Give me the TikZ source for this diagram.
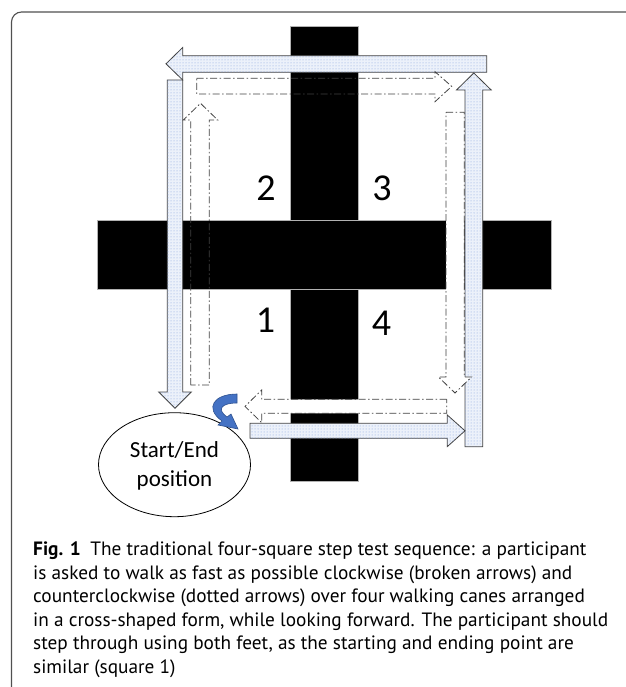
\documentclass[tikz,border=0pt]{standalone}
\usepackage{fontspec}
\setmainfont{Carlito}
\newfontfamily\capfont{PT Sans}
\usetikzlibrary{patterns}
\definecolor{dotfill}{RGB}{236,241,250}
\definecolor{dotcol}{RGB}{130,160,220}
\definecolor{blueC}{RGB}{68,114,196}
\definecolor{blueD}{RGB}{47,82,143}
\definecolor{framecol}{RGB}{80,80,80}
\tikzset{
  cane/.style={fill=black, draw=gray!60, line width=0.8pt},
  dotarrow/.style={draw=black!75, line width=0.8pt, fill=dotfill,
    postaction={pattern=dots, pattern color=dotcol}},
  dasharrow/.style={draw=black!75, line width=0.8pt,
    dash pattern=on 7pt off 2.5pt on 1.5pt off 2.5pt},
  numlabel/.style={font=\fontsize{38}{38}\selectfont, anchor=base, inner sep=0pt},
  caplabel/.style={font=\capfont\fontsize{19.3}{22}\selectfont, anchor=base west, inner sep=0pt},
}
\begin{document}
\begin{tikzpicture}[x=1pt,y=-1pt]
\useasboundingbox (0,0) rectangle (625,687);
% frame
\draw[framecol, line width=1.1pt, rounded corners=10pt] (11.5,690) -- (11.5,12) -- (630,12);
% canes
\path[cane] (290.7,26.7) rectangle (358.3,481.5);
\path[cane] (97.3,220.7) rectangle (551.7,289.3);
% dotted arrows (counterclockwise)
\path[dotarrow] (486.7,55.7) -- (182.7,55.7) -- (182.7,47.5) -- (166,63.8) -- (182.7,80) -- (182.7,72.3) -- (486.7,72.3) -- cycle;
\path[dotarrow] (167.3,80) -- (182.7,80) -- (182.7,392) -- (191.3,392) -- (175,408.3) -- (158.7,392) -- (167.3,392) -- cycle;
\path[dotarrow] (465,446.7) -- (465,90) -- (456.5,90) -- (473.8,73) -- (491.2,90) -- (482.7,90) -- (482.7,446.7) -- cycle;
\path[dotarrow] (250,423.3) -- (447.3,423.3) -- (447.3,415) -- (465,430.8) -- (447.3,446.6) -- (447.3,438.3) -- (250,438.3) -- cycle;
% dash-dot arrows (clockwise)
\path[dasharrow] (190.7,385) -- (190.7,120) -- (183.3,120) -- (200.5,103.3) -- (217.7,120) -- (209.3,120) -- (209.3,385) -- cycle;
\path[dasharrow] (196.7,78.3) -- (435,78.3) -- (435,71.7) -- (451.7,86.4) -- (435,101.7) -- (435,94) -- (196.7,94) -- cycle;
\path[dasharrow, fill=white] (446,112.3) -- (464.3,112.3) -- (464.3,377) -- (471.5,377) -- (455,393) -- (438.5,377) -- (446,377) -- cycle;
\path[dasharrow, fill=white] (446.7,399.3) -- (261.7,399.3) -- (261.7,390) -- (245,406.4) -- (261.7,422.7) -- (261.7,413.3) -- (446.7,413.3) -- cycle;
% square numbers
\node[numlabel] (n2) at (266,200) {2};
\node[numlabel] (n3) at (382,200) {3};
\node[numlabel] (n1) at (265.5,332) {1};
\node[numlabel] (n4) at (381.5,335) {4};
% start/end position
\draw[black, line width=0.8pt] (174.5,464.7) ellipse [x radius=76, y radius=52];
\node[font=\fontsize{23}{28.5}\selectfont, align=center, inner sep=0pt] (start) at (174.5,466) {Start/End\\position};
% curved blue arrow
\path[fill=blueC, draw=blueD, line width=0.6pt] (237,394) .. controls (214,394) and (204,408) .. (222,421) -- (218,425) -- (238,429) -- (231,414) -- (227,417) .. controls (216,409) and (222,403) .. (237,403) -- cycle;
% caption
\node[caplabel] (cap1) at (33,555) {\textbf{Fig. 1}\hspace{0.5em}The traditional four-square step test sequence: a participant};
\node[caplabel] (cap2) at (33,579) {is asked to walk as fast as possible clockwise (broken arrows) and};
\node[caplabel] (cap3) at (33,602.5) {counterclockwise (dotted arrows) over four walking canes arranged};
\node[caplabel] (cap4) at (33,626) {in a cross-shaped form, while looking forward. The participant should};
\node[caplabel] (cap5) at (33,649.5) {step through using both feet, as the starting and ending point are};
\node[caplabel] (cap6) at (33,673) {similar (square 1)};
\end{tikzpicture}
\end{document}
